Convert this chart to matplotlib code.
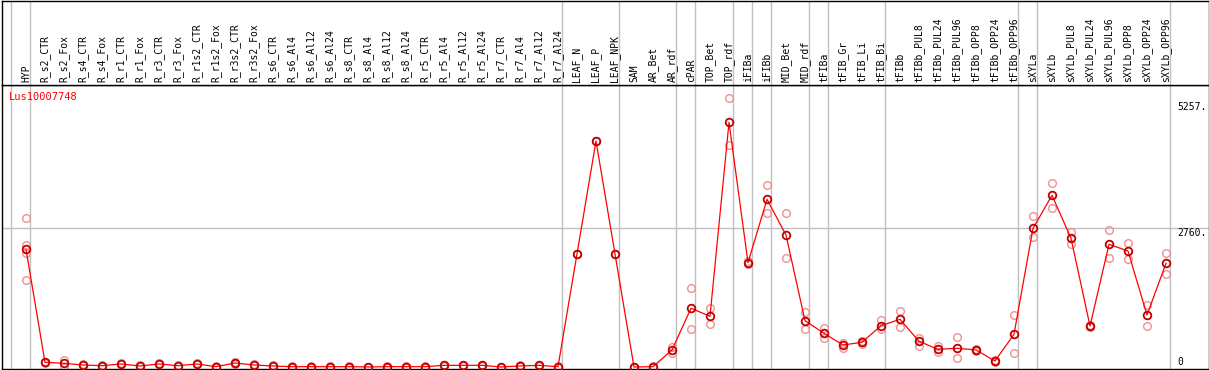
import matplotlib
matplotlib.use("Agg")
import matplotlib.pyplot as plt

# categories, in order along x
categories = ["HYP",
    "R_s2_CTR", "R_s2_Fox", "R_s4_CTR", "R_s4_Fox", "R_r1_CTR", "R_r1_Fox",
    "R_r3_CTR", "R_r3_Fox", "R_r1s2_CTR", "R_r1s2_Fox", "R_r3s2_CTR", "R_r3s2_Fox",
    "R_s6_CTR", "R_s6_Al4", "R_s6_Al12", "R_s6_Al24", "R_s8_CTR", "R_s8_Al4",
    "R_s8_Al12", "R_s8_Al24", "R_r5_CTR", "R_r5_Al4", "R_r5_Al12", "R_r5_Al24",
    "R_r7_CTR", "R_r7_Al4", "R_r7_Al12", "R_r7_Al24",
    "LEAF_N", "LEAF_P", "LEAF_NPK", "SAM", "AR_Bet", "AR_rdf", "cPAR",
    "TOP_Bet", "TOP_rdf", "iFIBa", "iFIBb", "MID_Bet", "MID_rdf",
    "tFIBa", "tFIB_Gr", "tFIB_Li", "tFIB_Bi",
    "tFIBb", "tFIBb_PUL8", "tFIBb_PUL24", "tFIBb_PUL96", "tFIBb_OPP8", "tFIBb_OPP24", "tFIBb_OPP96",
    "sXYLa", "sXYLb", "sXYLb_PUL8", "sXYLb_PUL24", "sXYLb_PUL96", "sXYLb_OPP8", "sXYLb_OPP24", "sXYLb_OPP96"]

# mean expression per category
means = [2337,
    93, 73, 40, 26, 60, 20, 60, 26, 60, 6, 79, 40,
    20, 6, 6, 6, 6, 0, 6, 6, 6, 33, 33, 33, 0, 20, 33, 6,
    2244, 4488, 2244, 0, 6, 338, 1166,
    1007, 4859, 2071, 3330, 2621, 919,
    669, 437, 490, 820,
    947, 510, 351, 371, 338, 119, 649,
    2754, 3409, 2556, 814, 2436, 2303, 1033, 2059]

# replicate values per category
reps = [[2953, 2423, 2258, 1728],
    [100, 86], [139, 6], [50, 30], [40, 12], [70, 50], [30, 10],
    [70, 50], [40, 12], [70, 50], [12, 0], [90, 68], [50, 30],
    [30, 10], [12, 0], [12, 0], [12, 0], [12, 0], [6, 0],
    [12, 0], [12, 0], [12, 0], [40, 26], [40, 26], [40, 26],
    [6, 0], [30, 10], [40, 26], [12, 0],
    [2250, 2238], [4495, 4481], [2250, 2238], [6, 0], [12, 0], [403, 272], [1563, 749],
    [1166, 848], [5336, 4408], [2105, 2045], [3608, 3052], [3052, 2158], [1086, 749],
    [768, 582], [470, 371], [516, 457], [933, 749],
    [1112, 788], [570, 417], [423, 292], [590, 173], [351, 324], [139, 99], [1027, 272],
    [2992, 2587], [3648, 3151], [2675, 2436], [834, 794], [2714, 2158], [2456, 2139], [1225, 820], [2258, 1841]]

# group separators (drawn just right of these indices)
separators = [-1, 0, 28, 31, 34, 35, 37, 38, 39, 41, 42, 45, 52, 53, 60]
yticks = [5257, 2760, 0]
gene = "Lus10007748"

W, H = 1209, 370
fig = plt.figure(figsize=(W / 100, H / 100), dpi=100)
mono = "DejaVu Sans Mono"
gray = "#c0c0c0"

x = list(range(len(categories)))
xlim = ((1.5 - 26) / 19.0, (1208.5 - 26) / 19.0)
left, width = 1.5 / W, 1207 / W

ax = fig.add_axes([left, 1 - 369 / H, width, (369 - 85) / H])
hx = fig.add_axes([left, 1 - 85 / H, width, 84.5 / H])

for a in (ax, hx):
    a.set_xlim(*xlim)
    a.set_xticks([])
    a.set_yticks([])
    for s in a.spines.values():
        s.set_linewidth(1.0)
        s.set_color("black")
    for sp in separators:
        a.axvline(sp + 0.22, color=gray, lw=1.0, zorder=0)

ax.set_ylim(-40, 5600)
ax.axhline(2760, color=gray, lw=1.0, zorder=0)

# replicates
for i, r in enumerate(reps):
    ax.plot([i] * len(r), r, linestyle="none", marker="o", ms=5.5,
            mfc="none", mec="#f09090", mew=1.0, zorder=2)

ax.plot(x, means, color="red", lw=0.9, zorder=3)
ax.plot(x, means, linestyle="none", marker="o", ms=5.5, mfc="none",
        mec="#c00000", mew=1.3, zorder=4)

ax.text(7 / 1207, 0.975, gene, transform=ax.transAxes, color="red",
        fontsize=7.5, family=mono, ha="left", va="top")

for v in yticks:
    tr = ax.get_yaxis_transform()
    ax.text((1177 - 1.5) / 1207, v, str(v) if v == 0 else f"{v}.",
            transform=tr, fontsize=7, family=mono, ha="left",
            va="bottom" if v == 0 else "top")

hx.set_ylim(0, 85)
for i, c in enumerate(categories):
    hx.text(i, 3, c, rotation=90, ha="center", va="bottom",
            fontsize=7, family=mono)

fig.savefig("out.png", dpi=100)
